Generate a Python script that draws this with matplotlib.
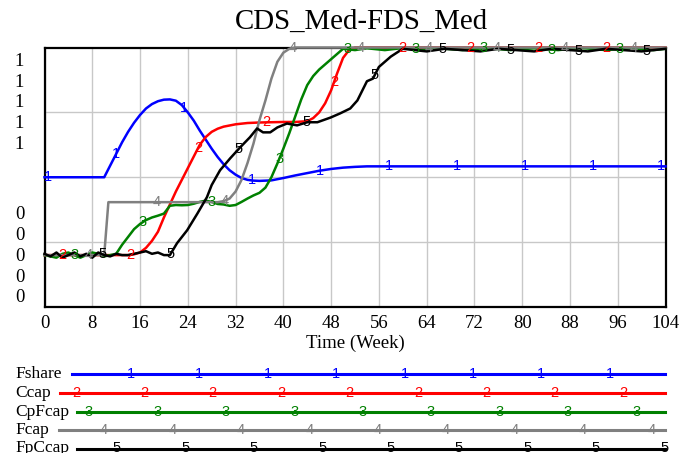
import matplotlib
matplotlib.use("Agg")
import matplotlib.pyplot as plt
import numpy as np

# ---- data (y in plot-fraction units) ----
fshare_t = [0, 10, 11, 12, 13, 14, 15, 16, 17, 18, 19, 20, 21, 22, 23, 24, 25, 26, 27, 28, 29, 30,
            31, 32, 33, 34, 35, 36, 38, 40, 42, 44, 46, 48, 50, 52, 54, 104]
fshare_v = [0.5, 0.5, 0.545, 0.59, 0.635, 0.675, 0.71, 0.74, 0.765, 0.782, 0.793, 0.799, 0.8, 0.795,
            0.778, 0.75, 0.718, 0.68, 0.645, 0.61, 0.578, 0.55, 0.527, 0.51, 0.497, 0.49, 0.487, 0.486,
            0.488, 0.497, 0.507, 0.516, 0.525, 0.532, 0.537, 0.54, 0.542, 0.542]

ccap_t = [0, 14, 15, 16, 17, 18, 19, 20, 21, 22, 23, 24, 25, 26, 27, 28, 29, 30, 32, 34, 36, 38, 40,
          42, 44, 45, 46, 47, 48, 49, 50, 51, 52, 104]
ccap_v = [0.2, 0.2, 0.203, 0.21, 0.228, 0.255, 0.29, 0.345, 0.395, 0.445, 0.49, 0.535, 0.58, 0.625,
          0.655, 0.675, 0.687, 0.695, 0.704, 0.709, 0.711, 0.712, 0.713, 0.713, 0.716, 0.728, 0.75,
          0.785, 0.835, 0.9, 0.96, 0.99, 1.0, 1.0]

cpfcap_t = [0, 1, 2, 3, 4, 5, 6, 7, 8, 9, 10, 11, 12, 13, 14, 15, 16, 17, 18, 19, 20, 21, 22, 23, 24,
            25, 26, 27, 28, 29, 30, 31, 32, 33, 34, 35, 36, 37, 38, 39, 40, 41, 42, 43, 44, 45, 46, 47,
            48, 49, 50, 52, 54, 57, 60, 63, 66, 70, 74, 78, 82, 86, 90, 94, 98, 102, 104]
cpfcap_v = [0.2, 0.195, 0.19, 0.205, 0.21, 0.2, 0.19, 0.2, 0.21, 0.205, 0.195, 0.2, 0.205, 0.24, 0.27,
            0.3, 0.32, 0.335, 0.345, 0.352, 0.36, 0.39, 0.393, 0.392, 0.393, 0.398, 0.405, 0.41, 0.405,
            0.397, 0.395, 0.39, 0.393, 0.405, 0.418, 0.43, 0.44, 0.46, 0.5, 0.553, 0.61, 0.67, 0.735,
            0.8, 0.855, 0.89, 0.915, 0.935, 0.955, 0.975, 0.995, 0.99, 0.997, 0.99, 0.998, 0.99, 0.997,
            0.99, 0.998, 0.99, 0.997, 0.99, 0.998, 0.99, 0.997, 0.99, 0.995]

fcap_t = [0, 10, 10.7, 29, 30, 31, 32, 33, 34, 35, 36, 37, 38, 39, 40, 41, 42, 104]
fcap_v = [0.2, 0.2, 0.404, 0.404, 0.408, 0.418, 0.445, 0.49, 0.555, 0.63, 0.72, 0.796, 0.88, 0.945,
          0.98, 0.995, 1.0, 1.0]

fpccap_t = [0, 1, 2, 3, 4, 5, 6, 7, 8, 9, 10, 11, 12, 13, 14, 15, 16, 17, 18, 19, 20, 21, 22.2, 23.9,
            25.6, 27.2, 28, 29.4, 31.1, 32.8, 34.4, 35.6, 36.6, 37.8, 39, 40.6, 42.3, 44, 45.7, 47.9,
            49.5, 51.2, 52.4, 54, 55, 56, 58, 60, 62, 64, 67, 70, 73, 76, 79, 82, 85, 88, 91, 94, 97,
            100, 104]
fpccap_v = [0.205, 0.195, 0.21, 0.19, 0.2, 0.21, 0.195, 0.205, 0.19, 0.21, 0.2, 0.195, 0.205, 0.2,
            0.2, 0.205, 0.21, 0.215, 0.205, 0.21, 0.2, 0.2, 0.246, 0.296, 0.36, 0.423, 0.47, 0.527,
            0.573, 0.616, 0.654, 0.688, 0.673, 0.673, 0.692, 0.707, 0.7, 0.712, 0.712, 0.73, 0.746,
            0.765, 0.796, 0.87, 0.88, 0.925, 0.965, 0.995, 0.99, 0.985, 0.995, 0.99, 0.985, 0.995,
            0.99, 0.985, 0.995, 0.99, 0.985, 0.995, 0.99, 0.985, 0.995]

names = ["Fshare", "Ccap", "CpFcap", "Fcap", "FpCcap"]
colors = ["#0000ff", "#ff0000", "#008000", "#808080", "#000000"]
series = [(fshare_t, fshare_v), (ccap_t, ccap_v), (cpfcap_t, cpfcap_v),
          (fcap_t, fcap_v), (fpccap_t, fpccap_v)]
x_ticks = list(range(0, 105, 8))
ytick_hi = ["1"] * 5
ytick_lo = ["0"] * 5

serif = ["Liberation Serif", "DejaVu Serif"]
W, H = 694, 453
fig = plt.figure(figsize=(W / 100, H / 100), dpi=100)
L, R, T, B = 44.5, 665.5, 47.5, 307
ax = fig.add_axes([L / W, 1 - B / H, (R - L) / W, (B - T) / H])
ax.set_xlim(0, 104)
ax.set_ylim(0, 1)
ax.set_xticks(x_ticks)
ax.set_xticklabels([str(v) for v in x_ticks], fontfamily=serif, fontsize=13.5)
ax.set_yticks([0.25, 0.5, 0.75])
ax.set_yticklabels([])
ax.tick_params(length=0, pad=6)
ax.grid(True, color="#c8c8c8", linewidth=1.0)
for sp in ax.spines.values():
    sp.set_linewidth(1.6)
ax.set_xlabel("Time (Week)", fontfamily=serif, fontsize=13.5, labelpad=2)

# lines with numeric markers every ~11.4 weeks
spacing = 11.4
offsets = [0.6, 2.9, 5.1, 7.4, 9.7]
for i, ((t, v), c) in enumerate(zip(series, colors)):
    ax.plot(t, v, color=c, linewidth=1.8, clip_on=False, zorder=3 + i * 0.1)
    mt = np.arange(offsets[i], 104.01, spacing)
    mv = np.interp(mt, t, v)
    for a, b in zip(mt, mv):
        ax.text(a, b, str(i + 1), color=c, fontsize=10.5, ha="center", va="center",
                fontfamily=["Liberation Sans"], zorder=5)

# weird stacked y labels like the original
hi_pos = [0.947, 0.866, 0.787, 0.706, 0.625]
lo_pos = [0.355, 0.274, 0.195, 0.114, 0.035]
for lab, p in zip(ytick_hi + ytick_lo, hi_pos + lo_pos):
    ax.text(-25 / ((R - L) / 104), p, lab, fontfamily=serif, fontsize=13.5,
            ha="center", va="center", transform=ax.transData, clip_on=False)

fig.text(361 / W, 1 - 22 / H, "CDS_Med-FDS_Med", fontfamily=serif, fontsize=20.8,
         ha="center", va="center")

# legend rows drawn in pixel coordinates
lg = fig.add_axes([0, 0, 1, 1], facecolor="none")
lg.set_xlim(0, W)
lg.set_ylim(H, 0)
lg.axis("off")
row_y = [374, 393, 411.5, 430, 448.5]
line_x0 = [72, 60, 77, 59, 77]
first_mark = [131, 76, 89, 104, 117]
for i in range(5):
    lg.text(15, row_y[i], names[i], fontfamily=serif, fontsize=12.5, ha="left", va="center")
    lg.plot([line_x0[i], 665], [row_y[i], row_y[i]], color=colors[i], linewidth=2.2)
    for mx in np.arange(first_mark[i], 666, 68.4):
        lg.text(mx, row_y[i], str(i + 1), color=colors[i], fontsize=10.5, ha="center",
                va="center", fontfamily=["Liberation Sans"])

fig.savefig("out.png", dpi=100)
